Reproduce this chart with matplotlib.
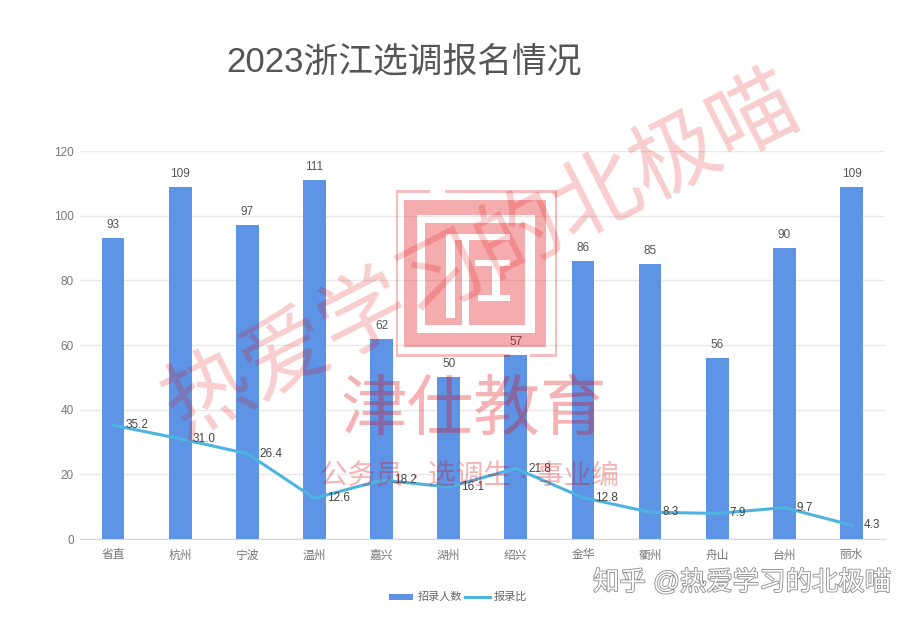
import matplotlib
matplotlib.use('Agg')
import numpy as np
from matplotlib import pyplot as plt
from matplotlib import patheffects as pe
from matplotlib.patches import Rectangle

plt.rcParams['font.family'] = ['Liberation Sans', 'Noto Sans CJK SC', 'DejaVu Sans']

# data
cities = ['省直', '杭州', '宁波', '温州', '嘉兴', '湖州', '绍兴', '金华', '衢州', '舟山', '台州', '丽水']
recruits = [93, 109, 97, 111, 62, 50, 57, 86, 85, 56, 90, 109]
ratio = [35.2, 31.0, 26.4, 12.6, 18.2, 16.1, 21.8, 12.8, 8.3, 7.9, 9.7, 4.3]
y_ticks = [0, 20, 40, 60, 80, 100, 120]

W, H = 914, 618
BAR = '#5d94e6'
LINE = '#4db4e1'
# deep red with low alpha behaves close to the multiply look of the watermark
RED = '#e2050a'

fig = plt.figure(figsize=(W / 100, H / 100), dpi=100, facecolor='white')
ax = fig.add_axes([79.5 / W, 1 - 539 / H, 805.5 / W, 388 / H])

ax.bar(range(12), recruits, width=0.34, color=BAR, zorder=2, label='招录人数')
ax.plot(range(12), ratio, color=LINE, lw=2.2, zorder=3, solid_joinstyle='round', label='报录比')

for i, v in enumerate(recruits):
    ax.annotate(str(v), (i, v), xytext=(0, 5), textcoords='offset points',
                ha='center', va='bottom', fontsize=8.5, color='#555555', zorder=5)
for i, v in enumerate(ratio):
    ax.annotate('%.1f' % v, (i, v), xytext=(9, 0), textcoords='offset points',
                ha='left', va='center', fontsize=8.5, color='#444444', zorder=5)

ax.set_xlim(-0.5, 11.5)
ax.set_ylim(0, 120)
ax.set_yticks(y_ticks)
ax.set_xticks(range(12))
ax.set_xticklabels(cities)
ax.tick_params(length=0, labelsize=8.5, labelcolor='#777777')
ax.tick_params(axis='x', pad=7.5)
ax.tick_params(axis='y', pad=4)
ax.grid(axis='y', color='#e8e8e8', lw=1)
ax.set_axisbelow(True)
for s in ['top', 'right', 'left']:
    ax.spines[s].set_visible(False)
ax.spines['bottom'].set_color('#d8d8d8')


def px_text(x, y, s, **kw):
    # position given in pixels of the picture, top-left origin
    return fig.text(x / W, 1 - y / H, s, ha='center', va='center', **kw)


px_text(404, 63, '2023浙江选调报名情况', fontsize=25, color='#555555')

# legend
fig.add_artist(Rectangle((389 / W, 1 - 600 / H), 24 / W, 6 / H, transform=fig.transFigure,
                         color=BAR, lw=0))
px_text(440, 597, '招录人数', fontsize=8, color='#666666')
fig.add_artist(plt.Line2D([465 / W, 490 / W], [1 - 597 / H] * 2, color=LINE, lw=2.2))
px_text(510, 597, '报录比', fontsize=8, color='#666666')

# stamp, as a mask so that the pieces do not stack up
sx, sy = 390, 186
mask = np.zeros((176, 174), dtype=float)


def stamp(x0, y0, x1, y1, val=1.0):
    mask[y0 - sy:y1 - sy, x0 - sx:x1 - sx] = val


# thin broken outer border
stamp(396, 190, 557, 357, 0.8)
stamp(398, 193, 555, 354, 0)
stamp(430, 188, 445, 196, 0)
stamp(510, 350, 530, 358, 0)
# frame and inner block
stamp(404, 200, 546, 347)
stamp(417, 215, 535, 333, 0)
stamp(425, 223, 525, 325)
# white strokes of the seal glyph
stamp(446, 235, 455, 318, 0)
stamp(446, 234, 510, 240, 0)
stamp(462, 235, 469, 325, 0)
stamp(475, 260, 510, 266, 0)
stamp(492, 266, 500, 297, 0)
stamp(478, 295, 510, 301, 0)

rgba = np.zeros(mask.shape + (4,))
rgba[..., :3] = matplotlib.colors.to_rgb(RED)
rgba[..., 3] = mask * 0.33
fig.figimage(rgba, xo=sx, yo=H - sy - mask.shape[0], origin='upper', zorder=6)

# watermarks
px_text(482, 258, '热爱学习的北极喵', fontsize=63, color=RED, alpha=0.2, rotation=27,
        rotation_mode='anchor', weight='light', zorder=8)
px_text(474, 413, '津仕教育', fontsize=48, color=RED, alpha=0.3, weight='light', zorder=8)
px_text(470, 477, '公务员 · 选调生 · 事业编', fontsize=20, color=RED, alpha=0.3, zorder=8)
px_text(742, 582, '知乎 @热爱学习的北极喵', fontsize=19, color='white', zorder=9,
        path_effects=[pe.withStroke(linewidth=1.2, foreground='#8a8a8a')])

fig.savefig('out.png', dpi=100)
